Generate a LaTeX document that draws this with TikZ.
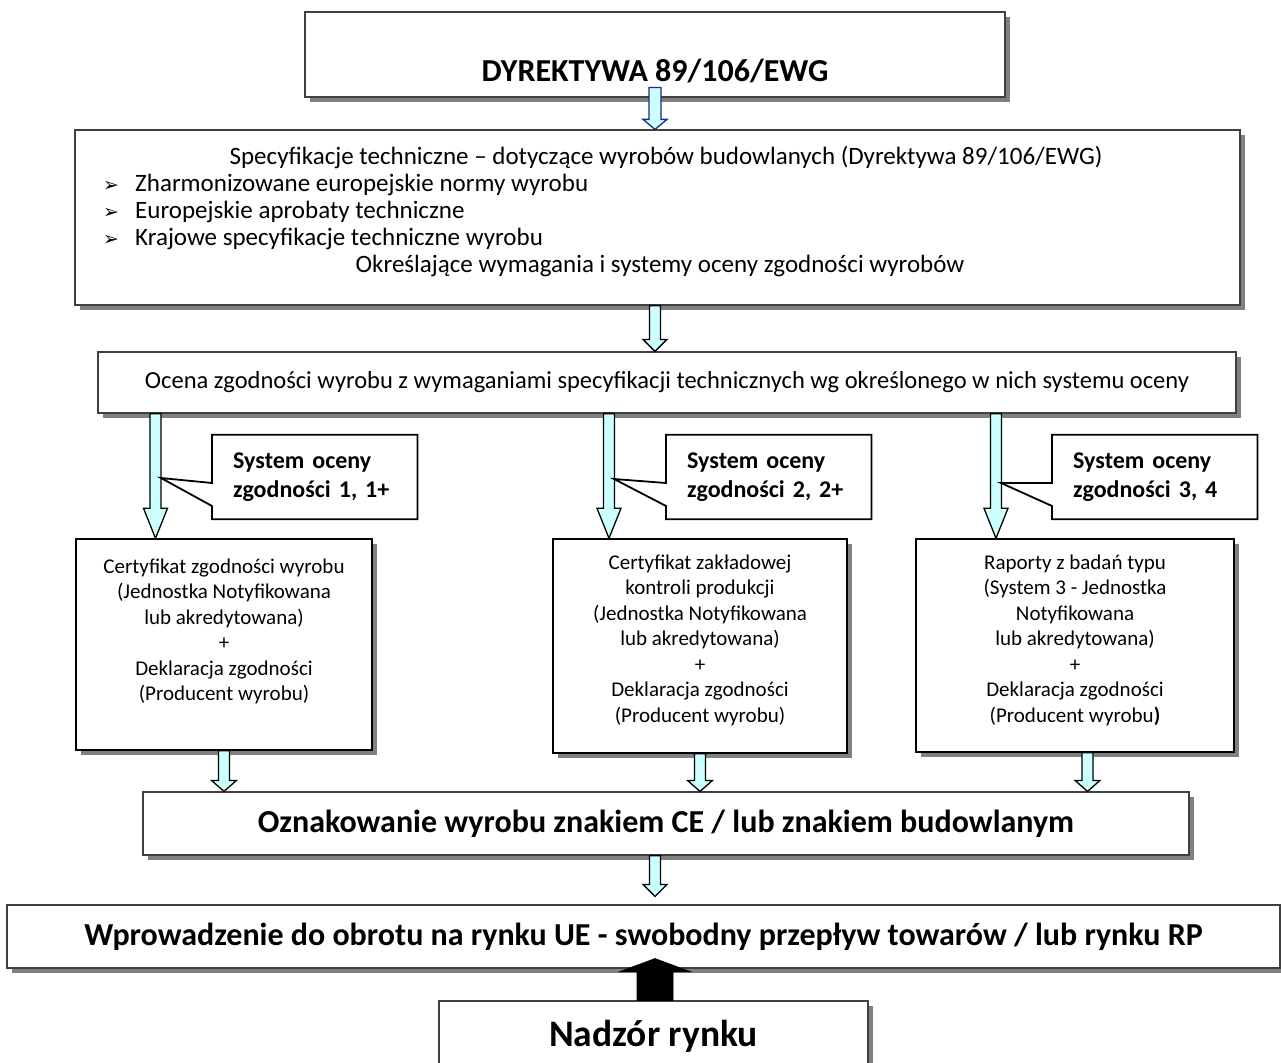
\documentclass[tikz,border=0pt]{standalone}
\usepackage{fontspec}
\setmainfont{Carlito}
\newfontfamily\symfont{DejaVu Sans}
\usetikzlibrary{calc,shadows}

\definecolor{arrowfill}{HTML}{CCFFFF}
\definecolor{edgegray}{HTML}{404040}
\definecolor{shadowgray}{HTML}{808080}
\definecolor{navyline}{HTML}{1F2A80}

\newcommand{\fsize}[2]{\fontsize{#1}{#2}\selectfont}
% block arrow: style, from, to, shaft half width, head half width, head length
\newcommand{\blockarrow}[6]{%
  \draw[#1] let \p1=(#2), \p2=(#3) in
    (\x1-#4pt,\y1) -- (\x1-#4pt,\y2+#6pt) -- (\x1-#5pt,\y2+#6pt) -- (\x1,\y2)
    -- (\x1+#5pt,\y2+#6pt) -- (\x1+#4pt,\y2+#6pt) -- (\x1+#4pt,\y1) -- cycle;}

\begin{document}
\begin{tikzpicture}[x=1pt, y=-1pt, line join=miter,
    box/.style={draw=edgegray, line width=1.2pt, fill=white, inner sep=0pt,
      drop shadow={shadow xshift=5pt, shadow yshift=-5pt, fill=shadowgray, opacity=1}},
    txt/.style={inner sep=0pt, font=\fsize{21}{25.5}},
    bigtxt/.style={inner sep=0pt, font=\fsize{25}{27}},
    callout/.style={inner xsep=21pt, inner ysep=0pt, text width=163pt, align=left,
      minimum height=84pt, anchor=west, font=\bfseries\fsize{24}{29}},
    calloutline/.style={draw=black, line width=1.8pt},
    hollow/.style={draw=black, line width=1.3pt, fill=arrowfill},
    solid arrow/.style={draw=black, fill=black, line width=0.8pt}]
  \useasboundingbox (0,0) rectangle (1281,1062);

  % top: directive and specifications
  \node[box, minimum width=700pt, minimum height=85pt, text height=60pt, text depth=6pt,
    font=\bfseries\fsize{32}{38}] (dir) at (655,54.5) {DYREKTYWA 89/106/EWG};
  \node[box, minimum width=1165pt, minimum height=175pt] (spec) at (657.5,217.5) {};
  \node[bigtxt] (spectitle) at (666,157)
    {Specyfikacje techniczne – dotyczące wyrobów budowlanych (Dyrektywa 89/106/EWG)};
  \node[bigtxt, anchor=west, align=left] (speclist) at (103,212)
    {\makebox[32pt][l]{\symfont\fsize{19}{19}➢}Zharmonizowane europejskie normy wyrobu\\
     \makebox[32pt][l]{\symfont\fsize{19}{19}➢}Europejskie aprobaty techniczne\\
     \makebox[32pt][l]{\symfont\fsize{19}{19}➢}Krajowe specyfikacje techniczne wyrobu};
  \node[bigtxt] (specend) at (660,266) {Określające wymagania i systemy oceny zgodności wyrobów};

  \node[box, minimum width=1138pt, minimum height=61pt, font=\fsize{24.5}{28}] (eval) at (667,382.5)
    {Ocena zgodności wyrobu z wymaganiami specyfikacji technicznych wg określonego w nich systemu oceny};

  \blockarrow{hollow, draw=navyline}{$(dir.south)+(0,-10)$}{spec.north}{6}{12}{10}
  \coordinate (a0) at (655,0);
  \blockarrow{hollow}{spec.south -| a0}{eval.north}{5.5}{12}{12}

  % three systems
  \node[box, line width=1.4pt, draw=black, minimum width=296pt, minimum height=211pt] (cert1) at (224,644.5) {};
  \node[box, line width=1.4pt, draw=black, minimum width=294pt, minimum height=214pt] (cert2) at (700,646) {};
  \node[box, line width=1.4pt, draw=black, minimum width=318pt, minimum height=213pt] (cert3) at (1075,645.5) {};

  \node[txt, anchor=north, align=center] (cert1txt) at ($(cert1.north)+(0,20)$)
    {Certyfikat zgodności wyrobu\\(Jednostka Notyfikowana\\lub akredytowana)\\+\\Deklaracja zgodności\\(Producent wyrobu)};
  \node[txt, anchor=north, align=center] (cert2txt) at ($(cert2.north)+(0,16)$)
    {Certyfikat zakładowej\\kontroli produkcji\\(Jednostka Notyfikowana\\lub akredytowana)\\+\\Deklaracja zgodności\\(Producent wyrobu)};
  \node[txt, anchor=north, align=center] (cert3txt) at ($(cert3.north)+(0,16)$)
    {Raporty z badań typu\\(System 3 - Jednostka\\Notyfikowana\\lub akredytowana)\\+\\Deklaracja zgodności\\(Producent wyrobu\textbf{)}};

  \coordinate (a1) at (155.5,0);
  \coordinate (a2) at (609,0);
  \coordinate (a3) at (996,0);
  \blockarrow{hollow}{eval.south -| a1}{cert1.north}{5.5}{12}{30}
  \blockarrow{hollow}{eval.south -| a2}{cert2.north}{5.5}{12}{30}
  \blockarrow{hollow}{eval.south -| a3}{cert3.north}{5.5}{12}{30}

  % callouts
  \node[callout] (sys1) at (212,477) {System oceny\\zgodności 1, 1+};
  \node[callout] (sys2) at (666,477) {System oceny\\zgodności 2, 2+};
  \node[callout] (sys3) at (1052,477) {System oceny\\zgodności 3, 4};
  \coordinate (tip1) at (161,478);
  \coordinate (tip2) at (614,479);
  \coordinate (tip3) at (1001,483);
  \foreach \i in {1,2,3}
    \draw[calloutline] (sys\i.north west) -- ($(sys\i.west)+(0,6)$) -- (tip\i)
      -- ($(sys\i.west)+(0,29)$) -- (sys\i.south west) -- (sys\i.south east)
      -- (sys\i.north east) -- cycle;

  % marking and market
  \node[box, minimum width=1046pt, minimum height=63pt, font=\bfseries\fsize{32}{38}] (mark) at (666,823.5)
    {Oznakowanie wyrobu znakiem CE / lub znakiem budowlanym};
  \coordinate (d3) at (1087.5,0);
  \blockarrow{hollow}{cert1.south}{mark.north}{5.5}{12.5}{11}
  \blockarrow{hollow}{cert2.south}{mark.north}{5.5}{12.5}{11}
  \blockarrow{hollow}{cert3.south -| d3}{mark.north}{5.5}{12.5}{11}

  \node[box, minimum width=1273pt, minimum height=63pt, font=\bfseries\fsize{32}{38}] (market) at (643.5,936.5)
    {Wprowadzenie do obrotu na rynku UE - swobodny przepływ towarów / lub rynku RP};
  \blockarrow{hollow}{mark.south -| a0}{$(market.north)+(0,-8)$}{5.5}{12}{12}

  \node[box, minimum width=429pt, minimum height=70pt, font=\bfseries\fsize{37.5}{45}] (watch) at (653.5,1036)
    {Nadzór rynku};
  \blockarrow{solid arrow}{watch.north -| a0}{$(market.south)+(0,-10)$}{18}{35}{-13}
\end{tikzpicture}
\end{document}
